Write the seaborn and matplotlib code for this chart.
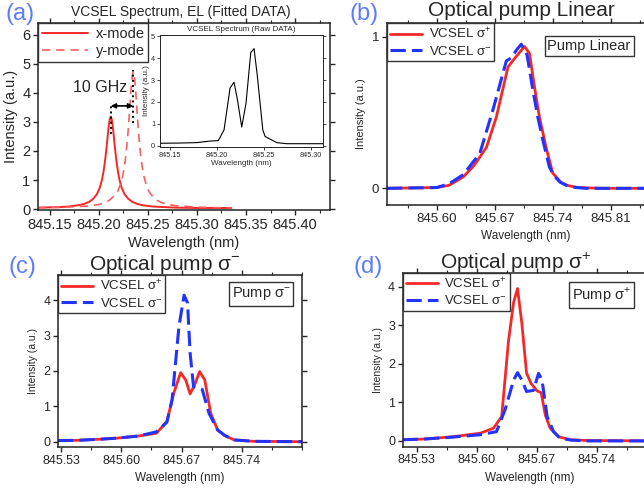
import numpy as np
import seaborn as sns
import matplotlib.pyplot as plt
from matplotlib.ticker import MultipleLocator

# ---------------- data ----------------
# (a) fitted EL spectrum
a_x_wl = [845.137, 845.16, 845.169, 845.18, 845.185, 845.19, 845.194, 845.198, 845.201, 845.203,
          845.2045, 845.206, 845.207, 845.208, 845.209, 845.210, 845.211, 845.212, 845.213, 845.214,
          845.215, 845.216, 845.217, 845.218, 845.2195, 845.221, 845.223, 845.226, 845.230, 845.234,
          845.239, 845.245, 845.255, 845.26, 845.28, 845.30, 845.335]
a_x_int = [0.05, 0.07, 0.09, 0.14, 0.18, 0.25, 0.35, 0.52, 0.75, 1.00,
           1.26, 1.61, 1.89, 2.21, 2.55, 2.87, 3.09, 3.18, 3.09, 2.87,
           2.55, 2.21, 1.89, 1.61, 1.26, 1.00, 0.75, 0.52, 0.35, 0.25,
           0.18, 0.13, 0.09, 0.08, 0.05, 0.04, 0.04]
a_y_wl = [845.137, 845.16, 845.18, 845.19, 845.20, 845.205, 845.21, 845.217, 845.2195, 845.222,
          845.224, 845.226, 845.2275, 845.229, 845.230, 845.231, 845.232, 845.233, 845.234, 845.235,
          845.236, 845.237, 845.238, 845.239, 845.240, 845.241, 845.2425, 845.244, 845.246, 845.248,
          845.2505, 845.253, 845.26, 845.265, 845.27, 845.28, 845.285, 845.30, 845.32, 845.335]
a_y_int = [0.05, 0.06, 0.09, 0.11, 0.16, 0.21, 0.29, 0.50, 0.64, 0.86,
           1.11, 1.48, 1.86, 2.38, 2.80, 3.28, 3.79, 4.26, 4.60, 4.73,
           4.60, 4.26, 3.79, 3.28, 2.80, 2.38, 1.86, 1.48, 1.11, 0.86,
           0.64, 0.50, 0.29, 0.21, 0.16, 0.11, 0.10, 0.07, 0.05, 0.05]
# (a) inset raw data
raw_wl = [845.1397, 845.16, 845.1787, 845.193, 845.2017, 845.2078, 845.2142, 845.2184, 845.222,
          845.2266, 845.2312, 845.2362, 845.2397, 845.2432, 845.249, 845.2514, 845.2567, 845.2638,
          845.2745, 845.313]
raw_int = [0.12, 0.13, 0.15, 0.22, 0.24, 0.73, 2.64, 2.90, 2.11,
           0.86, 1.96, 4.25, 4.43, 3.18, 0.73, 0.43, 0.31, 0.15,
           0.10, 0.10]

# (b) pump linear
b_p_wl = [845.54, 845.60, 845.615, 845.632, 845.645, 845.660, 845.672, 845.686, 845.696, 845.706,
          845.712, 845.716, 845.720, 845.724, 845.732, 845.740, 845.750, 845.757, 845.77, 845.80, 845.88]
b_p_int = [0, 0.005, 0.02, 0.075, 0.15, 0.27, 0.47, 0.80, 0.87, 0.935,
           0.89, 0.74, 0.60, 0.47, 0.27, 0.10, 0.04, 0.02, 0.005, 0, 0]
b_m_wl = [845.54, 845.60, 845.615, 845.632, 845.652, 845.668, 845.684, 845.690, 845.696, 845.702,
          845.709, 845.716, 845.722, 845.728, 845.736, 845.742, 845.749, 845.76, 845.78, 845.88]
b_m_int = [0, 0.005, 0.03, 0.09, 0.23, 0.52, 0.84, 0.86, 0.91, 0.95,
           0.88, 0.65, 0.47, 0.32, 0.14, 0.08, 0.04, 0.01, 0, 0]

# (c) pump sigma-
c_p_wl = [845.5265, 845.55, 845.575, 845.595, 845.62, 845.641, 845.653, 845.661, 845.669, 845.675,
          845.680, 845.686, 845.691, 845.697, 845.704, 845.712, 845.72, 845.731, 845.754, 845.81]
c_p_int = [0.03, 0.04, 0.07, 0.10, 0.16, 0.24, 0.57, 1.37, 1.95, 1.74,
           1.35, 1.65, 1.98, 1.75, 0.80, 0.33, 0.18, 0.05, 0.01, 0.0]
c_m_wl = [845.5265, 845.55, 845.575, 845.595, 845.62, 845.641, 845.653, 845.659, 845.667, 845.673,
          845.677, 845.680, 845.684, 845.690, 845.694, 845.702, 845.712, 845.72, 845.731, 845.754, 845.81]
c_m_int = [0.03, 0.04, 0.07, 0.10, 0.16, 0.28, 0.55, 1.18, 3.25, 4.14,
           3.92, 2.5, 1.55, 1.52, 1.48, 0.80, 0.33, 0.18, 0.05, 0.01, 0.0]

# (d) pump sigma+
d_p_wl = [845.5137, 845.54, 845.573, 845.604, 845.6195, 845.629, 845.637, 845.643, 845.6475, 845.6525,
          845.658, 845.663, 845.670, 845.675, 845.680, 845.6855, 845.695, 845.709, 845.73, 845.81]
d_p_int = [0.03, 0.05, 0.11, 0.20, 0.33, 0.63, 2.6, 3.6, 3.95, 3.05,
           1.76, 1.5, 1.3, 1.25, 0.66, 0.33, 0.11, 0.03, 0.01, 0.0]
d_m_wl = [845.5137, 845.54, 845.573, 845.604, 845.623, 845.633, 845.643, 845.6475, 845.6525, 845.658,
          845.666, 845.672, 845.676, 845.682, 845.6895, 845.697, 845.71, 845.73, 845.81]
d_m_int = [0.03, 0.05, 0.10, 0.16, 0.24, 0.81, 1.58, 1.77, 1.58, 1.28,
           1.31, 1.75, 1.58, 0.63, 0.24, 0.07, 0.02, 0.0, 0.0]

RED = "#f52828"
BLUE = "#2233ff"
LBL = "#5c7cff"

sns.set_style("ticks")
plt.rcParams['font.family'] = ['Liberation Sans', 'DejaVu Sans']
plt.rcParams['mathtext.fontset'] = 'custom'
plt.rcParams['mathtext.rm'] = 'Liberation Sans'
plt.rcParams['axes.edgecolor'] = '#222222'
plt.rcParams['axes.linewidth'] = 1.1

W, H = 644, 488
fig = plt.figure(figsize=(W / 100, H / 100), dpi=100)


def box(l, t, r, b):
    return [l / W, 1 - b / H, (r - l) / W, (b - t) / H]


def style(ax, fs, minor_x=None):
    ax.tick_params(axis='both', labelsize=fs, direction='out', length=3.5, width=1, pad=2)
    ax.tick_params(top=True, right=True, which='both')
    if minor_x:
        ax.xaxis.set_minor_locator(MultipleLocator(minor_x))
        ax.tick_params(axis='x', which='minor', length=2, width=0.8, direction='out')
    for s in ax.spines.values():
        s.set_visible(True)


def legend(ax, fs, hl=2.4):
    lg = ax.legend(loc='upper left', fontsize=fs, frameon=True, fancybox=False, framealpha=1,
                   edgecolor='#333333', borderaxespad=0, handlelength=hl, labelspacing=0.25,
                   borderpad=0.25, handletextpad=0.5)
    lg.get_frame().set_linewidth(1)
    return lg


# ---------------- (a) ----------------
axa = fig.add_axes(box(38, 23, 330, 210))
sns.lineplot(x=a_x_wl, y=a_x_int, ax=axa, color=RED, lw=1.4, label='x-mode')
sns.lineplot(x=a_y_wl, y=a_y_int, ax=axa, color='#f76060', lw=1.2, label='y-mode', linestyle=(0, (5, 3.5)))
axa.set_xlim(845.1378, 845.4357)
axa.set_ylim(-0.03, 6.4)
axa.set_xticks([845.15, 845.20, 845.25, 845.30, 845.35, 845.40])
axa.set_yticks(range(7))
style(axa, 10.5, 0.025)
axa.set_xlabel('Wavelength (nm)', fontsize=10.5, labelpad=3)
axa.set_ylabel('Intensity (a.u.)', fontsize=10.5, labelpad=3)
legend(axa, 10.5, 3.2)
# 10 GHz marker
axa.vlines(845.212, 2.6, 3.65, colors='black', linestyles=':', lw=1.4)
axa.vlines(845.235, 2.95, 4.8, colors='black', linestyles=':', lw=1.4)
axa.annotate('', xy=(845.212, 3.55), xytext=(845.235, 3.55),
             arrowprops=dict(arrowstyle='<|-|>', color='black', lw=1.2, mutation_scale=7,
                             shrinkA=0, shrinkB=0))
axa.text(845.174, 4.17, '10 GHz', fontsize=11.5, ha='left', va='center')

# inset
axi = fig.add_axes(box(160, 35, 323, 147))
sns.lineplot(x=raw_wl, y=raw_int, ax=axi, color='black', lw=0.8)
axi.set_xlim(845.1397, 845.313)
axi.set_ylim(-0.05, 5.05)
axi.set_xticks([845.15, 845.20, 845.25, 845.30])
axi.set_yticks(range(6))
axi.tick_params(labelsize=5.2, length=2, width=0.6, pad=1.5)
axi.tick_params(right=True, which='both')
for s in axi.spines.values():
    s.set_linewidth(0.7)
axi.set_xlabel('Wavelength (nm)', fontsize=5.8, labelpad=1)
axi.set_ylabel('Intensity (a.u.)', fontsize=5.8, labelpad=1)
axi.set_title('VCSEL Spectrum (Raw DATA)', fontsize=5.8, pad=3)

# ---------------- (b) ----------------
axb = fig.add_axes(box(387, 23, 665, 205))
sns.lineplot(x=b_p_wl, y=b_p_int, ax=axb, color=RED, lw=2, label='VCSEL σ$^{+}$')
sns.lineplot(x=b_m_wl, y=b_m_int, ax=axb, color=BLUE, lw=2.2, label='VCSEL σ$^{-}$', linestyle=(0, (5, 2)))
axb.set_xlim(845.54, 845.8755)
axb.set_ylim(-0.11, 1.09)
axb.set_xticks([845.60, 845.67, 845.74, 845.81])
axb.set_yticks([0, 1])
style(axb, 9.5, 0.035)
axb.set_xlabel('Wavelength (nm)', fontsize=8.5, labelpad=4)
axb.set_ylabel('Intensity (a.u.)', fontsize=8, labelpad=4)
legend(axb, 9.5)
axb.text(0.727, 0.874, 'Pump Linear', transform=axb.transAxes, fontsize=10.5, ha='center', va='center',
         bbox=dict(boxstyle='square,pad=0.2', fc='white', ec='#333333', lw=1))

# ---------------- (c) ----------------
axc = fig.add_axes(box(58, 275, 302, 447))
sns.lineplot(x=c_p_wl, y=c_p_int, ax=axc, color=RED, lw=2, label='VCSEL σ$^{+}$')
sns.lineplot(x=c_m_wl, y=c_m_int, ax=axc, color=BLUE, lw=2.2, label='VCSEL σ$^{-}$', linestyle=(0, (5, 2)))
axc.set_xlim(845.5265, 845.81)
axc.set_ylim(-0.15, 4.71)
axc.set_xticks([845.53, 845.60, 845.67, 845.74])
axc.set_yticks(range(5))
style(axc, 9, 0.035)
axc.set_xlabel('Wavelength (nm)', fontsize=8.5, labelpad=4)
axc.set_ylabel('Intensity (a.u.)', fontsize=7.5, labelpad=4)
legend(axc, 9.5)
axc.text(0.832, 0.89, 'Pump σ$^{-}$', transform=axc.transAxes, fontsize=10.5, ha='center', va='center',
         bbox=dict(boxstyle='square,pad=0.2', fc='white', ec='#333333', lw=1))

# ---------------- (d) ----------------
axd = fig.add_axes(box(402.7, 272.7, 657, 446.7))
sns.lineplot(x=d_p_wl, y=d_p_int, ax=axd, color=RED, lw=2, label='VCSEL σ$^{+}$')
sns.lineplot(x=d_m_wl, y=d_m_int, ax=axd, color=BLUE, lw=2.2, label='VCSEL σ$^{-}$', linestyle=(0, (5, 2)))
axd.set_xlim(845.5137, 845.81)
axd.set_ylim(-0.15, 4.36)
axd.set_xticks([845.53, 845.60, 845.67, 845.74])
axd.set_yticks(range(5))
style(axd, 9, 0.035)
axd.set_xlabel('Wavelength (nm)', fontsize=8.5, labelpad=4)
axd.set_ylabel('Intensity (a.u.)', fontsize=7.5, labelpad=4)
legend(axd, 9.5)
axd.text(0.782, 0.872, 'Pump σ$^{+}$', transform=axd.transAxes, fontsize=10.5, ha='center', va='center',
         bbox=dict(boxstyle='square,pad=0.2', fc='white', ec='#333333', lw=1))

# ---------------- titles and panel labels ----------------
def ftext(px, py, s, **kw):
    fig.text(px / W, 1 - py / H, s, ha='center', va='center', **kw)


ftext(181, 12, 'VCSEL Spectrum, EL (Fitted DATA)', fontsize=10)
ftext(521, 11, 'Optical pump Linear', fontsize=15)
ftext(165, 265, 'Optical pump σ$^{-}$', fontsize=15)
ftext(516, 263, 'Optical pump σ$^{+}$', fontsize=15)
ftext(20, 14, '(a)', fontsize=17, color=LBL)
ftext(364, 14, '(b)', fontsize=17, color=LBL)
ftext(22, 267, '(c)', fontsize=17, color=LBL)
ftext(368, 267, '(d)', fontsize=17, color=LBL)

fig.savefig('out.png', dpi=100)
